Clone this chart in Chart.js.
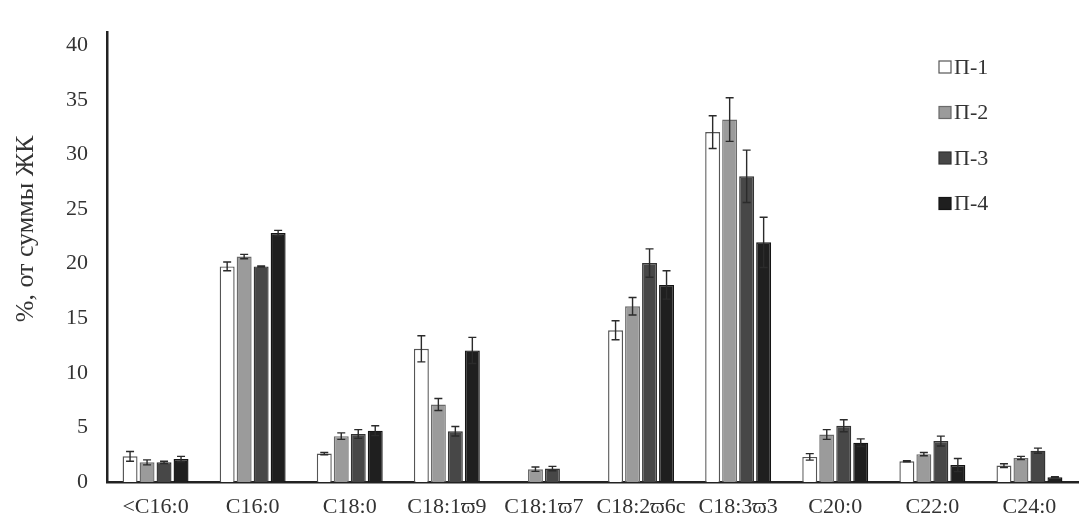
<!DOCTYPE html>
<html>
<head>
<meta charset="utf-8">
<script src="https://cdn.jsdelivr.net/npm/chart.js@4.4.1/dist/chart.umd.min.js"></script>
<style>
html,body{margin:0;padding:0;background:#fff;}
#wrap{width:1086px;height:529px;position:relative;}
</style>
</head>
<body>
<div id="wrap"><canvas id="c" width="1086" height="529"></canvas></div>
<script>
const categories = ["<C16:0", "C16:0", "C18:0", "C18:1\u03D69", "C18:1\u03D67", "C18:2\u03D66c", "C18:3\u03D63", "C20:0", "C22:0", "C24:0"];
const seriesNames = ["\u041F-1", "\u041F-2", "\u041F-3", "\u041F-4"];
const p1 = [2.35, 19.75, 2.6, 12.2, null, 13.9, 32.05, 2.3, 1.9, 1.5];
const p1Err = [0.45, 0.4, 0.1, 1.2, null, 0.87, 1.5, 0.3, 0.05, 0.17];
const p2 = [1.8, 20.65, 4.2, 7.1, 1.17, 16.1, 33.2, 4.35, 2.55, 2.2];
const p2Err = [0.23, 0.2, 0.3, 0.55, 0.2, 0.8, 2.0, 0.45, 0.15, 0.15];
const p3 = [1.8, 19.75, 4.4, 4.65, 1.23, 20.05, 28.0, 5.15, 3.75, 2.87];
const p3Err = [0.1, 0.05, 0.4, 0.43, 0.2, 1.3, 2.4, 0.55, 0.45, 0.23];
const p4 = [2.1, 22.8, 4.7, 12.05, null, 18.05, 21.95, 3.6, 1.55, 0.43];
const p4Err = [0.25, 0.25, 0.45, 1.2, null, 1.3, 2.3, 0.35, 0.6, 0.05];
const yTicks = [0, 5, 10, 15, 20, 25, 30, 35, 40];
const yTitle = "%, \u043E\u0442 \u0441\u0443\u043C\u043C\u044B \u0416\u041A";

const fills = ["#ffffff", "#9b9b9b", "#474747", "#1f1f1f"];
const borders = ["#555555", "#6a6a6a", "#333333", "#151515"];
const values = [p1, p2, p3, p4];
const errors = [p1Err, p2Err, p3Err, p4Err];
const FONT = "'Liberation Serif', 'Times New Roman', serif";

const errorBars = {
  id: 'errorBars',
  afterDatasetsDraw(chart) {
    const ctx = chart.ctx;
    const y = chart.scales.y;
    ctx.save();
    chart.data.datasets.forEach((ds, di) => {
      const meta = chart.getDatasetMeta(di);
      meta.data.forEach((bar, i) => {
        const v = ds.data[i], e = errors[di][i];
        if (v == null || e == null) return;
        const x = bar.x;
        const yt = y.getPixelForValue(v + e);
        const yb = y.getPixelForValue(Math.max(0, v - e));
        ctx.strokeStyle = '#2b2b2b';
        ctx.lineWidth = 1.4;
        ctx.beginPath();
        ctx.moveTo(x, yt); ctx.lineTo(x, yb);
        ctx.moveTo(x - 4, yt); ctx.lineTo(x + 4, yt);
        ctx.moveTo(x - 4, yb); ctx.lineTo(x + 4, yb);
        ctx.stroke();
      });
    });
    ctx.restore();
  }
};

const extras = {
  id: 'extras',
  afterDraw(chart) {
    const ctx = chart.ctx;
    ctx.save();
    ctx.font = "22px " + FONT;
    ctx.textBaseline = 'middle';
    ctx.textAlign = 'left';
    chart.data.datasets.forEach((ds, i) => {
      const cy = 67 + i * 45.5;
      const sx = 939;
      ctx.fillStyle = ds.backgroundColor;
      ctx.fillRect(sx, cy - 6, 12, 12);
      ctx.strokeStyle = ds.borderColor;
      ctx.lineWidth = 1.2;
      ctx.strokeRect(sx, cy - 6, 12, 12);
      ctx.fillStyle = '#333';
      ctx.fillText(ds.label, sx + 15, cy + 1);
    });
    ctx.translate(26, 229);
    ctx.rotate(-Math.PI / 2);
    ctx.textAlign = 'center';
    ctx.font = "26px " + FONT;
    ctx.fillStyle = '#333';
    ctx.fillText(yTitle, 0, 0);
    ctx.restore();
  }
};

new Chart(document.getElementById('c'), {
  type: 'bar',
  data: {
    labels: categories,
    datasets: seriesNames.map((n, i) => ({
      label: n,
      data: values[i],
      backgroundColor: fills[i],
      borderColor: borders[i],
      borderWidth: 1.4,
      borderSkipped: 'bottom',
      categoryPercentage: 0.7,
      barPercentage: 0.88
    }))
  },
  options: {
    responsive: false,
    animation: false,
    layout: { padding: { top: 8, right: 8, left: 0, bottom: 0 } },
    plugins: { legend: { display: false }, tooltip: { enabled: false } },
    scales: {
      x: {
        grid: { display: false, drawTicks: false },
        border: { display: true, color: '#222', width: 2.5 },
        ticks: { color: '#333', font: { family: FONT, size: 22 }, padding: 12, maxRotation: 0, autoSkip: false },
        afterFit(s) { s.height = 47; }
      },
      y: {
        min: 0, max: 41.2,
        grid: { display: false, drawTicks: false },
        border: { display: true, color: '#222', width: 2.5 },
        ticks: { stepSize: 5, color: '#333', font: { family: FONT, size: 22 }, padding: 19 },
        afterBuildTicks(s) { s.ticks = yTicks.map(v => ({ value: v })); },
        title: { display: false },
        afterFit(s) { s.width = 107; }
      }
    }
  },
  plugins: [errorBars, extras]
});
</script>
</body>
</html>
